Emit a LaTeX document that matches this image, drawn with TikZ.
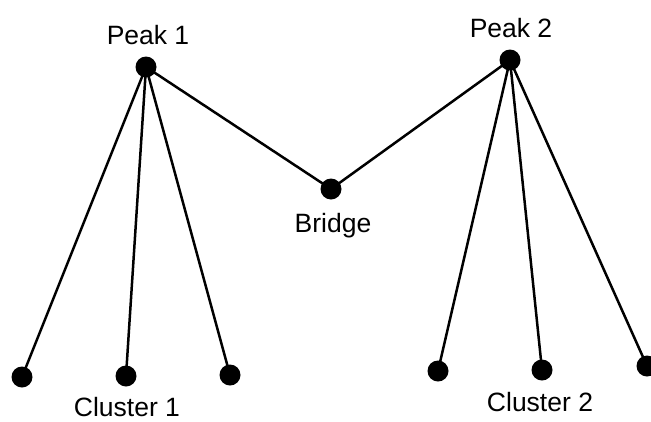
\documentclass[tikz,border=0pt]{standalone}
\usepackage{fontspec}
\setmainfont{Liberation Sans}
\begin{document}
\begin{tikzpicture}[x=1pt,y=-1pt,
  dot/.style={circle,fill=black,inner sep=0pt,minimum size=21pt},
  lbl/.style={anchor=base,inner sep=0pt,font=\fontsize{26.5}{30}\selectfont},
  edge/.style={line width=2.5pt,black}]
\useasboundingbox (0,0) rectangle (651,421);
\node[dot] (p1) at (146,67) {};
\node[dot] (p2) at (510,60) {};
\node[dot] (b) at (331,189) {};
\node[dot] (c11) at (22,377) {};
\node[dot] (c12) at (126,376) {};
\node[dot] (c13) at (230,375) {};
\node[dot] (c21) at (438,371) {};
\node[dot] (c22) at (542,370) {};
\node[dot] (c23) at (647,366) {};
\node[lbl] (lp1) at (148,44) {Peak 1};
\node[lbl] (lp2) at (511,37) {Peak 2};
\node[lbl] (lb) at (333,232) {Bridge};
\node[lbl] (lc1) at (127,416) {Cluster 1};
\node[lbl] (lc2) at (540,411) {Cluster 2};
\draw[edge] (p1.center) -- (b.center) -- (p2.center);
\draw[edge] (p1.center) -- (c11.center);
\draw[edge] (p1.center) -- (c12.center);
\draw[edge] (p1.center) -- (c13.center);
\draw[edge] (p2.center) -- (c21.center);
\draw[edge] (p2.center) -- (c22.center);
\draw[edge] (p2.center) -- (c23.center);
\end{tikzpicture}
\end{document}
